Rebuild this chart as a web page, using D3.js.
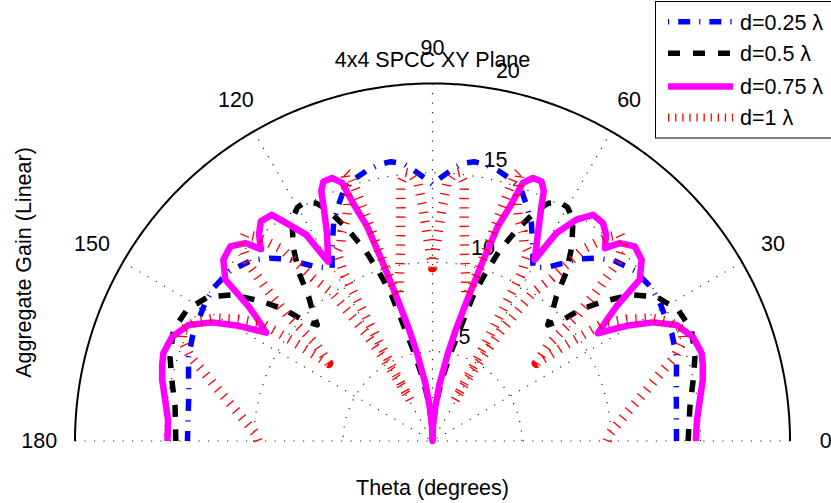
<!DOCTYPE html>
<html><head><meta charset="utf-8">
<script src="https://cdn.jsdelivr.net/npm/d3@7"></script>
<style>body{margin:0;background:#fff}svg{display:block}text{font-family:"Liberation Sans",Arial,sans-serif;fill:#000}</style>
</head><body>
<svg id="chart" width="831" height="503"></svg>
<script>
const chartTitle = "4x4 SPCC XY Plane";
const xLabel = "Theta (degrees)";
const yLabel = "Aggregate Gain (Linear)";
const seriesNames = ["d=0.25 λ", "d=0.5 λ", "d=0.75 λ", "d=1 λ"];
const angleTicks = [30, 60, 90, 120, 150, 180, 0];
const ringTicks = [5, 10, 15, 20];

const thetaBlue = [0,10,19,24,31,35,40,45,48.4,51.4,53.7,56.4,59.9,62.3,65.6,68.3,70.7,73.5,76.2,79,81.5,84,86,88.5,90,
  91.5,94,96,98.5,101,103.8,106.5,109.3,111.7,114.4,117.7,120.1,123.6,126.3,128.6,131.6,135,140,145,149,156,161,170,180];
const gainBlue = [13.65,13.85,14.44,14.67,14.87,14.95,14.8,14.3,13.68,13.03,12.34,11.68,11.19,12.09,13.39,14.22,14.95,15.3,15.55,15.75,15.8,15.6,15.2,14.68,14.35,
  14.68,15.2,15.6,15.8,15.75,15.55,15.3,14.95,14.22,13.39,12.09,11.19,11.68,12.34,13.03,13.68,14.3,14.8,14.95,14.87,14.67,14.44,13.85,13.71];

const thetaBlack = [0,7.6,13.2,17.8,23.2,28.1,32.8,36.3,39.3,41.7,42.9,45.2,47,49.4,51.6,54.3,57.6,60,62,64,65.7,68.1,70.6,72.4,74.3,75.6,78,81,84,87,90,
  93,96,99,102,104.4,105.7,107.6,109.4,111.9,114.3,116,118,120,122.4,125.7,128.4,130.6,133,134.8,137.1,138.3,140.7,143.7,147.2,151.9,156.8,162.2,166.8,172.4,180];
const gainBlack = [14.3,14.53,14.98,15.42,15.77,15.58,14.91,13.81,12.33,11.03,9.96,9.15,9.8,10.65,12.05,13.35,14.67,15.1,15.14,14.8,14.14,12.8,11.29,9.93,8.5,7.0,5.2,3.6,2.3,1.1,0,
  1.1,2.3,3.6,5.2,7.0,8.5,9.93,11.29,12.8,14.14,14.8,15.14,15.1,14.67,13.35,12.05,10.65,9.8,9.15,9.96,11.03,12.33,13.81,14.91,15.58,15.77,15.42,14.98,14.53,14.36];

const thetaMagenta = [0,4.5,8.7,12.7,15.7,18.1,21.8,25.4,28.3,30.7,33.1,35,36.2,37.9,40.9,43.9,46.6,48.2,50,52,54.6,57,59.2,60.6,63.1,65.1,66,67.2,69.1,70.7,71.7,73.05,74.3,76,78,80,83,86,88,90,
  92,94,97,100,102,104,105.7,106.95,108.3,109.3,110.9,112.8,114,114.9,116.9,120.2,121.5,123.5,125.4,128,130,131.8,133.4,136.1,139.1,142.1,143.8,145,146.9,149.3,151.7,154.6,158.2,161.9,164.3,167.3,171.3,175.5,180];
const gainMagenta = [14.73,14.84,15.13,15.5,15.71,15.84,15.69,15.12,14.0,12.62,11.04,12.0,12.75,14.69,15.48,15.7,15.24,14.47,15.1,15.48,15.52,14.77,13.54,11.64,13.05,14.47,15.3,15.75,15.75,15.3,13.83,12.55,10.53,8.3,6.5,5.0,3.2,1.7,0.8,0,
  0.8,1.7,3.2,5.0,6.5,8.3,10.53,12.55,13.83,15.3,15.75,15.75,15.3,14.47,13.05,11.6,13.54,14.5,15.52,15.6,15.1,14.4,15.24,15.7,15.48,14.69,12.75,12.0,11.1,12.62,14.0,15.12,15.69,15.84,15.71,15.5,15.13,14.84,14.83];

const thetaRed = [0,2.5,8.1,13.4,17.1,19.2,22,24,26.7,29.5,32.1,34.6,35.6,36.8,38.5,39.8,40.4,40.8,42.5,44,46,47.8,49.5,51.9,53.8,55.9,56.9,58.2,59.3,60.4,61.1,61.5,62,63.2,65.2,66.6,69,70.3,71.3,72,72.8,73.5,74.5,75.8,77,78.5,80.5,82,83,84.3,85.5,86.8,87.6,88.3,89.2,90,
  90.8,91.7,92.4,93.2,94.5,95.7,97,98,99.5,101.5,103,104.2,105.5,106.5,107.2,108,108.7,109.7,111,113.4,114.8,116.8,118,118.5,118.9,119.6,120.7,121.8,123.1,124.1,126.2,128.1,130.5,132.2,134,136,137.5,139.2,139.6,140.2,141.5,143.2,144.4,145.4,147.9,150.5,153.3,156,158,160.8,162.9,166.6,171.9,177.5,180];
const gainRed = [9.76,9.93,10.96,12.31,13.5,14.36,15.12,15.3,14.86,13.97,12.82,11.6,9.5,7.25,7.9,8.54,9.58,10.63,12.6,14.4,15.4,15.6,15.0,13.6,11.3,10.0,8.54,7.1,5.49,4.0,2.6,6.0,10.5,11.86,12.2,12.75,13.4,14.04,14.9,15.9,15.5,13.3,10.6,8.9,8.3,9.3,10.85,12.7,14.55,15.1,15.0,14.4,13.1,11.9,10.6,9.7,
  10.6,11.9,13.1,14.4,15.0,15.1,14.55,12.7,10.85,9.3,8.3,8.9,10.6,13.3,15.5,15.9,14.9,14.04,13.4,12.75,12.2,11.86,10.5,6.0,2.6,4.0,5.49,7.1,8.54,10.0,11.3,13.6,15.0,15.6,15.4,14.4,12.6,10.63,9.58,8.54,7.9,7.25,9.5,11.6,12.82,13.97,14.86,15.3,15.12,14.36,13.5,12.31,10.96,9.93,9.76];

const W = 831, H = 503;
const cx = 432.5, cy = 441, R = 357.5;
const rScale = d3.scaleLinear().domain([0, 20]).range([0, R]);
const aScale = d3.scaleLinear().domain([0, 180]).range([Math.PI / 2, -Math.PI / 2]);
const svg = d3.select("#chart");
const g = svg.append("g").attr("transform", `translate(${cx},${cy})`);
const px = (deg, v) => rScale(v) * Math.sin(aScale(deg));
const py = (deg, v) => -rScale(v) * Math.cos(aScale(deg));

// grid rings (dotted)
const ringLine = d3.lineRadial().angle(d => aScale(d[0])).radius(d => rScale(d[1]));
const arcDegs = d3.range(0, 180.5, 1);
ringTicks.slice(0, 3).forEach(v => {
  g.append("path").attr("d", ringLine(arcDegs.map(a => [a, v])))
    .attr("fill", "none").attr("stroke", "#222").attr("stroke-width", 1.2).attr("stroke-dasharray", "1.2 8.3");
});
// spokes
[0, 30, 60, 90, 120, 150, 180].forEach(a => {
  g.append("line").attr("x1", px(a, 20)).attr("y1", py(a, 20)).attr("x2", 0).attr("y2", 0)
    .attr("stroke", "#222").attr("stroke-width", 1.2).attr("stroke-dasharray", "1.2 8.3");
});
// outer circle
g.append("path").attr("d", ringLine(d3.range(0, 180.25, 0.5).map(a => [a, 20])))
  .attr("fill", "none").attr("stroke", "#000").attr("stroke-width", 2);

// angle labels
angleTicks.forEach(a => {
  g.append("text").attr("x", px(a, 22)).attr("y", py(a, 22)).attr("text-anchor", "middle")
    .attr("dominant-baseline", "central").attr("font-size", 21.5).text(a);
});
// ring labels
ringTicks.forEach(v => {
  g.append("text").attr("x", px(82, v + 0.25) + 13).attr("y", py(82, v + 0.25) - 4.4)
    .attr("font-size", 21.5).text(v);
});

// data
const series = [
  {t: thetaBlue, v: gainBlue, color: "#0000ff", w: 5.5, dash: "12 9.5 1.2 9.5"},
  {t: thetaBlack, v: gainBlack, color: "#000000", w: 5.5, dash: "12 12.5"},
  {t: thetaMagenta, v: gainMagenta, color: "#ff00ff", w: 6.5, dash: null},
  {t: thetaRed, v: gainRed, color: "#ff0000", w: 9.5, dash: "1.3 8"}
];
const dataLine = d3.lineRadial().angle(d => aScale(d[0])).radius(d => rScale(d[1]));
series.forEach(s => {
  const p = g.append("path").attr("d", dataLine(d3.zip(s.t, s.v)))
    .attr("fill", "none").attr("stroke", s.color).attr("stroke-width", s.w)
    .attr("stroke-linejoin", "round");
  if (s.dash) p.attr("stroke-dasharray", s.dash);
});

// title and axis labels
svg.append("text").attr("x", 432.5).attr("y", 66.5).attr("text-anchor", "middle").attr("font-size", 21.5).text(chartTitle);
svg.append("text").attr("x", 432.5).attr("y", 495).attr("text-anchor", "middle").attr("font-size", 21.5).text(xLabel);
svg.append("text").attr("transform", "translate(30.5,262.5) rotate(-90)").attr("text-anchor", "middle").attr("font-size", 21.5).text(yLabel);

// legend
const lg = svg.append("g");
lg.append("rect").attr("x", 655.5).attr("y", 1.5).attr("width", 185).attr("height", 136.5)
  .attr("fill", "#fff").attr("stroke", "#000").attr("stroke-width", 1);
const rowY = [21.7, 53.3, 86.5, 117.5];
series.forEach((s, i) => {
  const l = lg.append("line").attr("x1", 668).attr("x2", 733).attr("y1", rowY[i]).attr("y2", rowY[i])
    .attr("stroke", s.color).attr("stroke-width", i === 3 ? 8 : s.w);
  if (i === 0) l.attr("stroke-dasharray", "1.2 9 12 9");
  if (i === 1) l.attr("stroke-dasharray", "12 13");
  if (i === 3) l.attr("stroke-dasharray", "1.3 5.8");
  lg.append("text").attr("x", 740).attr("y", rowY[i] + 7.8).attr("font-size", 21.5).text(seriesNames[i]);
});
</script>
</body></html>
